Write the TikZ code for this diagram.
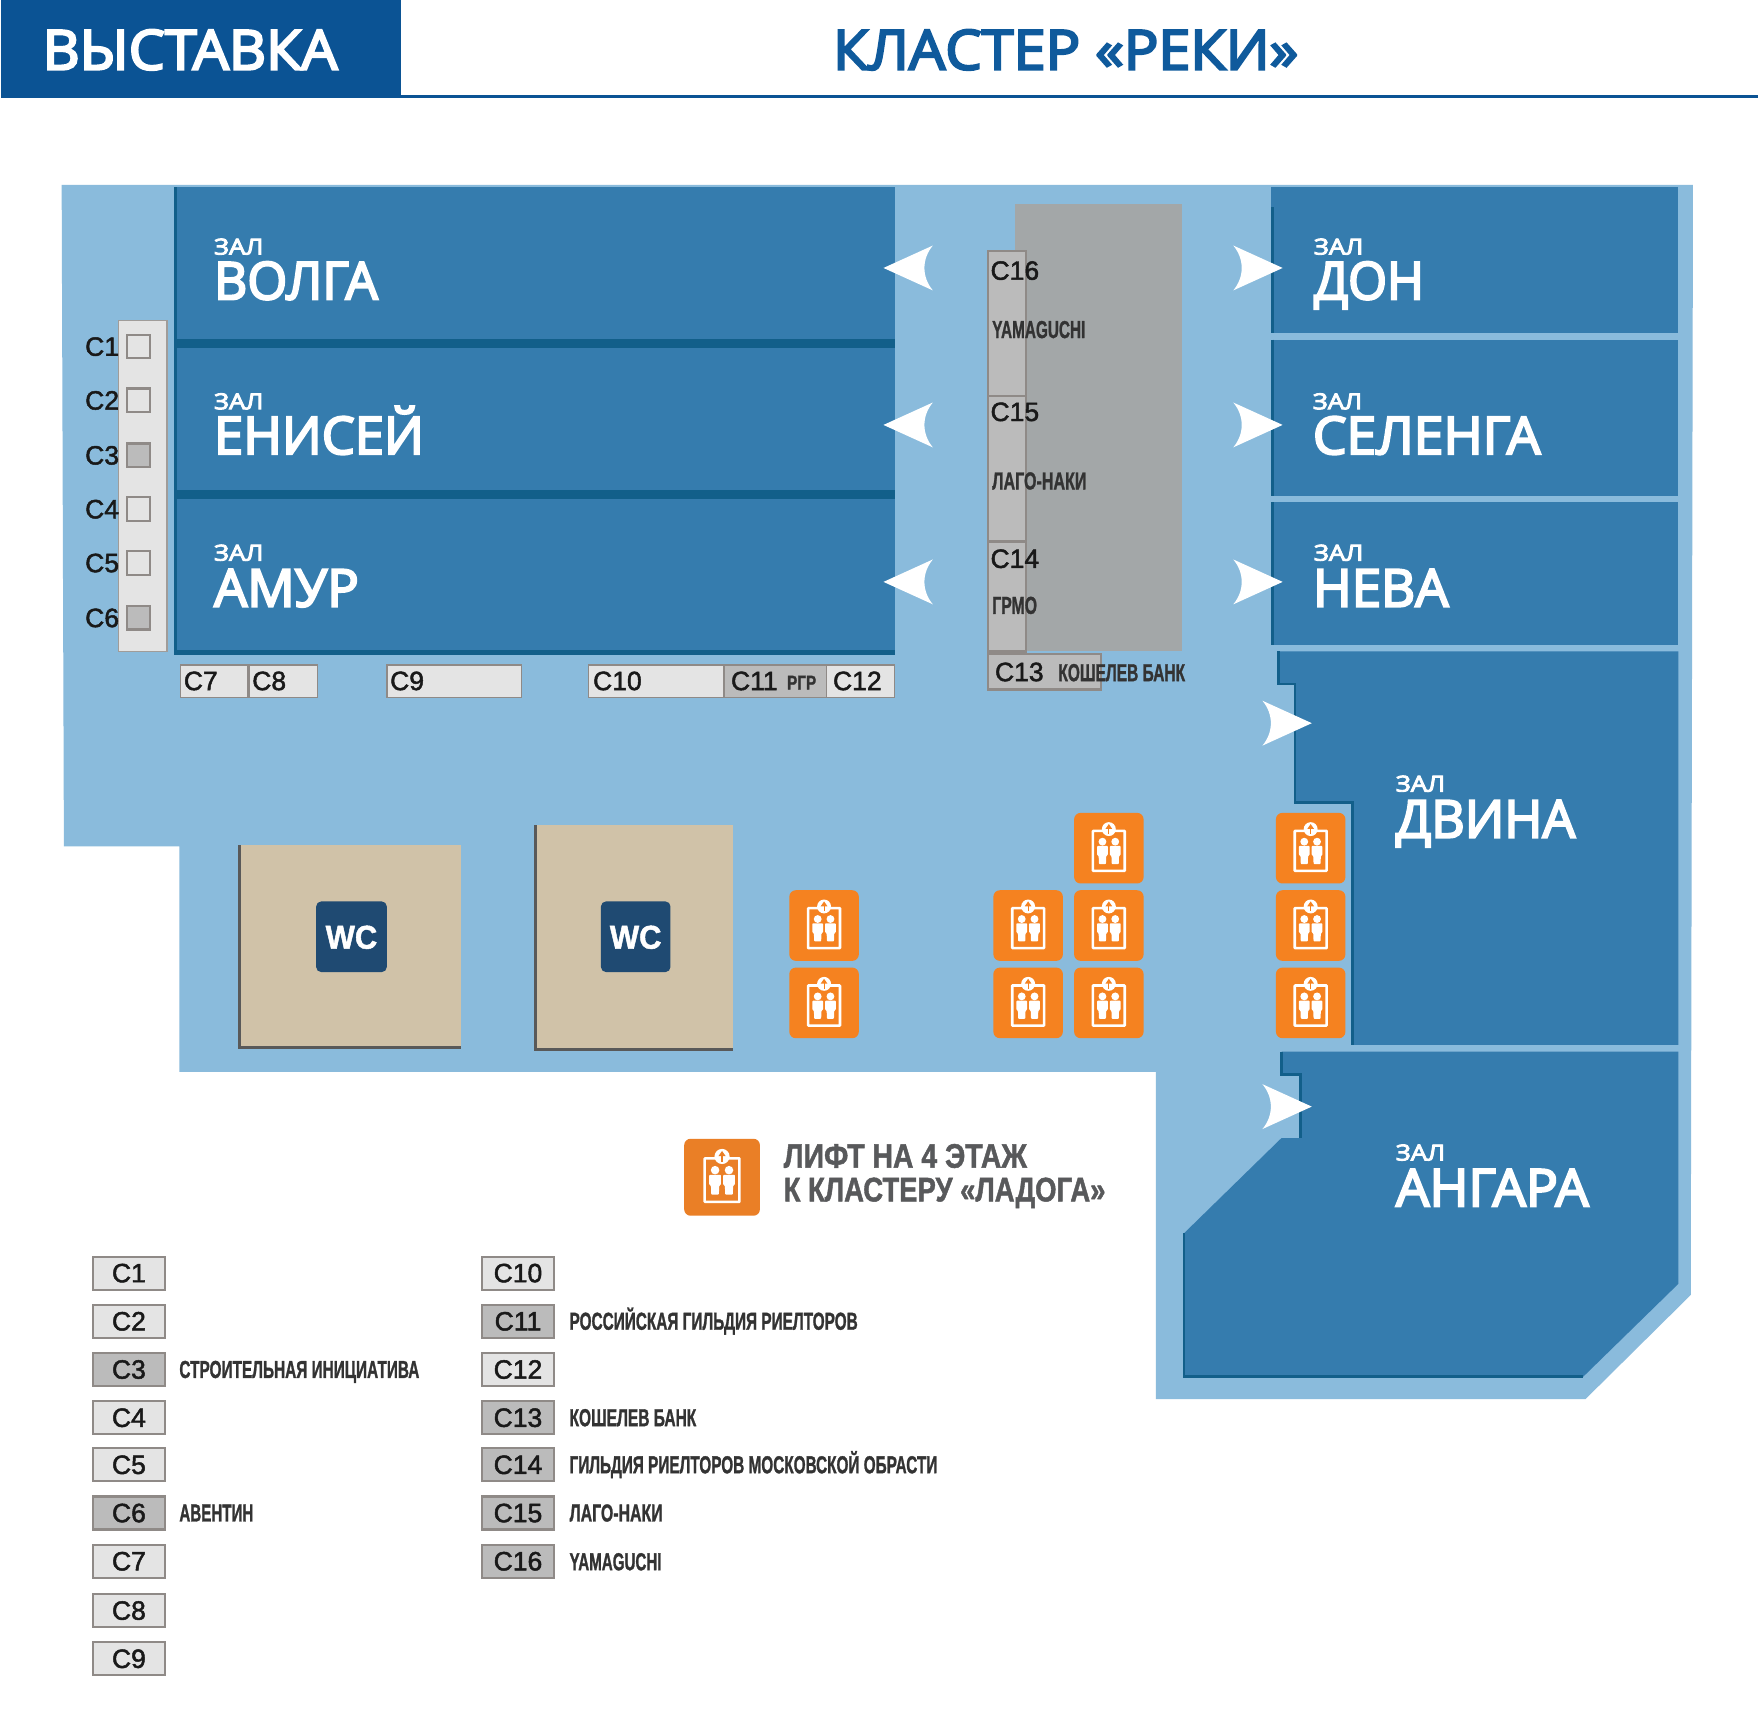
\documentclass[tikz,border=0pt]{standalone}
\usepackage{graphicx}
\usepackage{fontspec}
\newfontfamily\headf[FakeBold=4]{Open Sans}
\newfontfamily\labf[FakeBold=1.8]{Liberation Sans}
\newfontfamily\boldf[BoldFeatures={FakeBold=1.5}]{Liberation Sans}
\newlength\mainu
\setlength\mainu{1.1212pt}
\definecolor{bgblue}{HTML}{8ABBDC}
\definecolor{hallblue}{HTML}{357CAE}
\definecolor{halldark}{HTML}{125F8A}
\definecolor{headblue}{HTML}{0B5394}
\definecolor{titleblue}{HTML}{0F5A9C}
\definecolor{blockgrey}{HTML}{A3A7A8}
\definecolor{stallline}{HTML}{8F8A87}
\definecolor{stalllight}{HTML}{E4E4E4}
\definecolor{stalldark}{HTML}{BBBBBB}
\definecolor{tanroom}{HTML}{D0C2A8}
\definecolor{wcnavy}{HTML}{1F4A72}
\definecolor{liftorange}{HTML}{F58220}
\definecolor{liftorangeb}{HTML}{EA7F26}
\definecolor{condtext}{HTML}{333333}
\definecolor{liftgrey}{HTML}{58595B}
\colorlet{lifttile}{liftorange}
\newcommand\fitx[2]{\resizebox{#1\mainu}{\height}{#2}}
\newcommand\zal{\fitx{44}{\headf\fontsize{22}{22}\selectfont ЗАЛ}}
\newcommand\hname[2]{\fitx{#1}{\headf\fontsize{52}{52}\selectfont #2}}
\newcommand\cond[2]{\fitx{#1}{\boldf\bfseries\fontsize{24.5}{24.5}\selectfont #2}}
\tikzset{
  txt/.style={inner sep=0pt,outer sep=0pt,anchor=base west},
  clabel/.style={txt,text=black!90,font={\labf\fontsize{26.5}{26.5}\selectfont}},
  lbl/.style={txt,text=condtext},
  stall/.style={draw=stallline,line width=2.2pt},
  stalll/.style={stall,fill=stalllight},
  stalld/.style={stall,fill=stalldark},
  legl/.style={stalll,minimum width=71.5pt,minimum height=33pt,inner sep=0pt,font={\labf\fontsize{26.5}{26.5}\selectfont},text=black!90},
  legd/.style={stalld,minimum width=71.5pt,minimum height=33pt,inner sep=0pt,font={\labf\fontsize{26.5}{26.5}\selectfont},text=black!90},
  hall/.style={fill=hallblue},
  edge/.style={draw=halldark,line width=2.8pt},
  lift/.pic={
    \fill[lifttile,rounded corners=6.5pt] (-31,-31.5) rectangle (31,31.5);
    \draw[white,line width=2.6pt,rounded corners=0.6pt] (-14.2,-15.5) rectangle (14.2,20.2);
    \fill[white] (0,-17) circle (6.2);
    \draw[lifttile,line width=1.1pt] (0,-12.8) -- (0,-18);
    \fill[lifttile] (0,-21.5) -- (3,-17.2) -- (-3,-17.2) -- cycle;
    \foreach \s in {-5.7,5.7}{
      \fill[white] (\s,-5.8) circle (3.5);
      \fill[white,rounded corners=0.8pt] (\s-4.8,-2) -- (\s+4.8,-2) -- (\s+4.8,6.2) -- (\s+3.4,6.8) -- (\s+3.1,14.2) -- (\s-3.1,14.2) -- (\s-3.4,6.8) -- (\s-4.8,6.2) -- cycle;
    }
  },
  hallarrow/.pic={
    \fill[white] (-22,-20) -- (22,0) -- (-22,20) .. controls (-12,8) and (-12,-8) .. (-22,-20) -- cycle;
  }
}
\begin{document}
\begin{tikzpicture}[x=1.1212pt,y=-1.1212pt]
\useasboundingbox (0,0) rectangle (1568,1539.5);
\fill[white] (0,0) rectangle (1568,1539.5);
% header
\fill[headblue] (1,0) rectangle (358,87);
\draw[headblue,line width=2.6pt] (358,86) -- (1568,86);
\node[txt,text=white] (tExpo) at (38,62) {\fitx{263}{\headf\fontsize{55}{55}\selectfont ВЫСТАВКА}};
\node[txt,text=titleblue] (tCluster) at (743,62) {\fitx{415}{\headf\fontsize{55}{55}\selectfont КЛАСТЕР «РЕКИ»}};
% floor
\fill[bgblue] (55,165) -- (1510,165) -- (1508,1155) -- (1414,1248) -- (1031,1248) -- (1031,956) -- (160,956) -- (160,755) -- (57,755) -- cycle;
% left halls
\fill[halldark] (155,167) rectangle (798,584);
\fill[hall] (158,167) rectangle (798,302);
\fill[hall] (158,310) rectangle (798,437);
\fill[hall] (158,445) rectangle (798,580);
% right halls
\fill[hall] (1134,167) rectangle (1497,297);
\fill[hall] (1134,303) rectangle (1497,442);
\fill[hall] (1134,448) rectangle (1497,575);
\draw[edge] (1135,185) -- (1135,297) (1135,303) -- (1135,442) (1135,448) -- (1135,575);
\fill[hall] (1140,581) -- (1497,581) -- (1497,932) -- (1206,932) -- (1206,716) -- (1155,716) -- (1155,610) -- (1140,610) -- cycle;
\draw[edge] (1140,581) -- (1140,610) -- (1155,610) -- (1155,716) -- (1206,716) -- (1206,932);
\fill[hall] (1143,938) -- (1497,938) -- (1497,1145) -- (1412,1228) -- (1056,1228) -- (1056,1100) -- (1143,1015) -- (1160,1015) -- (1160,958) -- (1143,958) -- cycle;
\draw[edge] (1143,938) -- (1143,958) -- (1160,958) -- (1160,1015);
\draw[edge] (1056,1100) -- (1056,1228) -- (1412,1228);
% hall names
\node[txt,text=white] (zVolga) at (191,227) {\zal};
\node[txt,text=white] (nVolga) at (191,267) {\hname{146}{ВОЛГА}};
\node[txt,text=white] (zEnisei) at (191,365) {\zal};
\node[txt,text=white] (nEnisei) at (191,405) {\hname{187}{ЕНИСЕЙ}};
\node[txt,text=white] (zAmur) at (191,500) {\zal};
\node[txt,text=white] (nAmur) at (191,541) {\hname{129}{АМУР}};
\node[txt,text=white] (zDon) at (1172,227) {\zal};
\node[txt,text=white] (nDon) at (1172,267) {\hname{98}{ДОН}};
\node[txt,text=white] (zSelenga) at (1171,365) {\zal};
\node[txt,text=white] (nSelenga) at (1171,405) {\hname{203}{СЕЛЕНГА}};
\node[txt,text=white] (zNeva) at (1172,500) {\zal};
\node[txt,text=white] (nNeva) at (1171,541) {\hname{121}{НЕВА}};
\node[txt,text=white] (zDvina) at (1245,706) {\zal};
\node[txt,text=white] (nDvina) at (1245,747) {\hname{160}{ДВИНА}};
\node[txt,text=white] (zAngara) at (1245,1035) {\zal};
\node[txt,text=white] (nAngara) at (1245,1076) {\hname{172}{АНГАРА}};
% grey block and stalls
\fill[blockgrey] (905,182) rectangle (1054,581);
\draw[stalld] (881,224) rectangle (915,353);
\draw[stalld] (881,353) rectangle (915,483);
\draw[stalld] (881,483) rectangle (915,581);
\draw[stalld] (881,583) rectangle (982,615);
\node[clabel] (m16) at (883.5,249.5) {C16};
\node[lbl] (y16) at (885,301.5) {\cond{83}{YAMAGUCHI}};
\node[clabel] (m15) at (883.5,375.5) {C15};
\node[lbl] (y15) at (885,436.5) {\cond{84}{ЛАГО-НАКИ}};
\node[clabel] (m14) at (883.5,506.5) {C14};
\node[lbl] (y14) at (885,547.5) {\cond{40}{ГРМО}};
\node[clabel] (m13) at (887.5,607.5) {C13};
\node[lbl] (y13) at (944,607.5) {\cond{113}{КОШЕЛЕВ БАНК}};
% left strip
\draw[stall,draw=stallline!85,line width=1.3pt,fill=stalllight] (106,286) rectangle (149,581);
\foreach \n/\y/\c in {1/309/stalll,2/357/stalll,3/406/stalld,4/454/stalll,5/502/stalll,6/551/stalld}{
  \draw[\c] (113,\y-10.5) rectangle (134,\y+10.5);
  \node[clabel] (m\n) at (76,\y+8.3) {C\n};
}
% bottom row
\draw[stalll,line width=1.4pt] (161,593) rectangle (221,622);
\draw[stalll,line width=1.4pt] (222,593) rectangle (283,622);
\draw[stalll,line width=1.4pt] (345,593) rectangle (465,622);
\draw[stalll,line width=1.4pt] (525,593) rectangle (646,622);
\draw[stalld,line width=1.6pt] (646,593) rectangle (737,622);
\draw[stalll,line width=1.4pt] (737,593) rectangle (798,622);
\node[clabel] (m7) at (164,615.5) {C7};
\node[clabel] (m8) at (225,615.5) {C8};
\node[clabel] (m9) at (348,615.5) {C9};
\node[clabel] (m10) at (529,615.5) {C10};
\node[clabel] (m11) at (652,615.5) {C11};
\node[lbl] (y11) at (702,615) {\fitx{26}{\boldf\bfseries\fontsize{20}{20}\selectfont РГР}};
\node[clabel] (m12) at (743,615.5) {C12};
% arrows
\foreach \y in {239,379,519}{
  \pic[xscale=-1] at (810,\y) {hallarrow};
  \pic at (1122,\y) {hallarrow};
}
\pic at (1148,645) {hallarrow};
\pic at (1148,987) {hallarrow};
% WC rooms
\fill[tanroom] (213,754) rectangle (411,935);
\draw[draw=black!65,line width=3pt] (214,754) -- (214,934) -- (411,934);
\fill[tanroom] (477,736) rectangle (654,937);
\draw[draw=black!65,line width=3pt] (478,736) -- (478,936) -- (654,936);
\fill[wcnavy,rounded corners=5pt] (282,804) rectangle (345,867);
\fill[wcnavy,rounded corners=5pt] (536,804) rectangle (598,867);
\node[anchor=center,inner sep=0pt,text=white] (wc1) at (313.5,836) {\fitx{46}{\boldf\bfseries\fontsize{33}{33}\selectfont WC}};
\node[anchor=center,inner sep=0pt,text=white] (wc2) at (567,836) {\fitx{46}{\boldf\bfseries\fontsize{33}{33}\selectfont WC}};
% lifts
\foreach \x/\y in {735/825.5,735/894.5,917/825.5,917/894.5,989/756.5,989/825.5,989/894.5,1169/756.5,1169/825.5,1169/894.5}{
  \pic at (\x,\y) {lift};
}
% legend lift
\begin{scope}
\colorlet{lifttile}{liftorangeb}
\pic[scale=1.09] at (644,1050) {lift};
\end{scope}
\node[txt,text=liftgrey] (liftA) at (699,1041.5) {\fitx{217}{\boldf\bfseries\fontsize{34}{34}\selectfont ЛИФТ НА 4 ЭТАЖ}};
\node[txt,text=liftgrey] (liftB) at (699,1071.5) {\fitx{287}{\boldf\bfseries\fontsize{34}{34}\selectfont К КЛАСТЕРУ «ЛАДОГА»}};
% legend
\foreach \n/\y/\c in {1/1135.5/legl,2/1178.5/legl,3/1221.5/legd,4/1264.5/legl,5/1306.5/legl,6/1349.5/legd,7/1392.5/legl,8/1436.5/legl,9/1479.5/legl}{
  \node[\c] (leg\n) at (115,\y) {C\n};
}
\foreach \n/\y/\c in {10/1135.5/legl,11/1178.5/legd,12/1221.5/legl,13/1264.5/legd,14/1306.5/legd,15/1349.5/legd,16/1392.5/legd}{
  \node[\c] (leg\n) at (462,\y) {C\n};
}
\node[lbl] (tC3) at (160,1229) {\cond{214}{СТРОИТЕЛЬНАЯ ИНИЦИАТИВА}};
\node[lbl] (tC6) at (160,1357) {\cond{66}{АВЕНТИН}};
\node[lbl] (tC11) at (508,1186) {\cond{257}{РОССИЙСКАЯ ГИЛЬДИЯ РИЕЛТОРОВ}};
\node[lbl] (tC13) at (508,1272) {\cond{113}{КОШЕЛЕВ БАНК}};
\node[lbl] (tC14) at (508,1314) {\cond{328}{ГИЛЬДИЯ РИЕЛТОРОВ МОСКОВСКОЙ ОБРАСТИ}};
\node[lbl] (tC15) at (508,1357) {\cond{83}{ЛАГО-НАКИ}};
\node[lbl] (tC16) at (508,1400.5) {\cond{82}{YAMAGUCHI}};
\end{tikzpicture}
\end{document}
